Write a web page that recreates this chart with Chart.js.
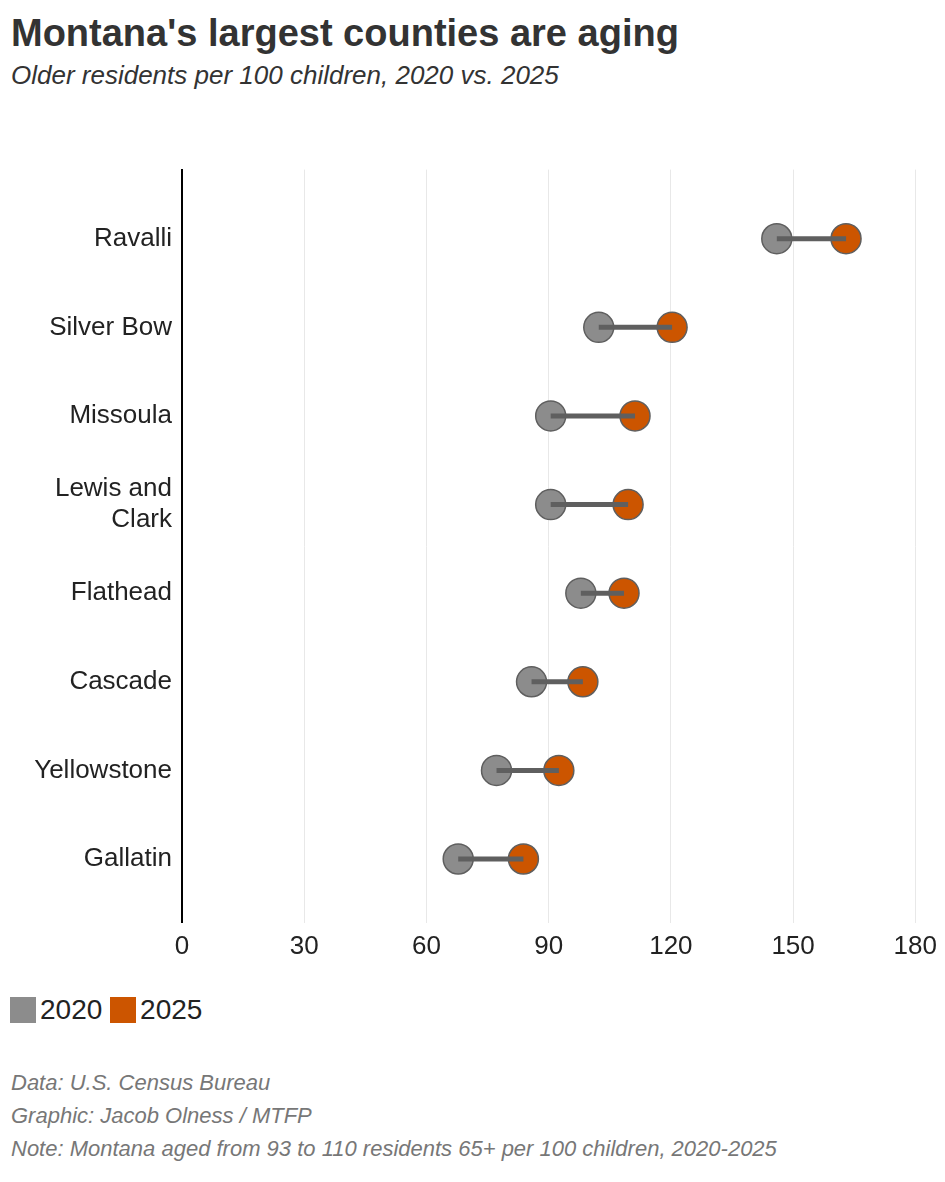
<!DOCTYPE html>
<html><head><meta charset="utf-8">
<script src="https://cdn.jsdelivr.net/npm/chart.js@4"></script>
<style>
body{margin:0;background:#fff;font-family:"Liberation Sans",Arial,sans-serif;color:#333}
h1{position:absolute;left:11px;top:12px;margin:0;font-size:38px;font-weight:bold;color:#333}
.sub{position:absolute;left:11px;top:60px;font-size:26px;font-style:italic;color:#333}
#wrap{position:absolute;left:0;top:150px;width:945px;height:820px}
.leg{position:absolute;left:10px;top:994px;font-size:28px;color:#222;display:flex;align-items:center}
.leg span.b{display:inline-block;width:26px;height:26px;margin-right:4px}
.notes{position:absolute;left:11px;top:1066px;font-size:22px;font-style:italic;color:#777;line-height:33px}
</style></head><body>
<h1>Montana's largest counties are aging</h1>
<div class="sub">Older residents per 100 children, 2020 vs. 2025</div>
<div id="wrap"><canvas id="c"></canvas></div>
<div class="leg"><span class="b" style="background:#8c8c8c"></span>2020&nbsp;<span class="b" style="background:#cc5500"></span>2025</div>
<div class="notes">Data: U.S. Census Bureau<br>Graphic: Jacob Olness / MTFP<br>Note: Montana aged from 93 to 110 residents 65+ per 100 children, 2020-2025</div>
<script>
var counties = ["Ravalli","Silver Bow","Missoula","Lewis and Clark","Flathead","Cascade","Yellowstone","Gallatin"];
var v2020 = [146, 102.3, 90.5, 90.5, 97.9, 85.8, 77.2, 67.8];
var v2025 = [163, 120.3, 111.2, 109.5, 108.5, 98.4, 92.5, 83.8];
var xTicks = [0, 30, 60, 90, 120, 150, 180];

var datasets = [];
counties.forEach(function(c, i){
	datasets.push({type:'line', data:[{x:v2020[i],y:i},{x:v2025[i],y:i}],
		borderColor:'#5f5f5f', borderWidth:5, pointRadius:0, pointHoverRadius:0});
});
datasets.push({type:'scatter', label:'2020', data:v2020.map(function(v,i){return {x:v,y:i};}),
	backgroundColor:'#8c8c8c', borderColor:'#5f5f5f', borderWidth:1.5, pointRadius:15});
datasets.push({type:'scatter', label:'2025', data:v2025.map(function(v,i){return {x:v,y:i};}),
	backgroundColor:'#cc5500', borderColor:'#5f5f5f', borderWidth:1.5, pointRadius:15});

new Chart(document.getElementById('c'), {
	type:'scatter',
	data:{datasets:datasets},
	options:{
		responsive:true, maintainAspectRatio:false, animation:false,
		layout:{padding:{left:0,right:12,top:10,bottom:0}},
		plugins:{legend:{display:false},tooltip:{enabled:false}},
		scales:{
			x:{type:'linear', min:0, max:180, afterBuildTicks:function(a){a.ticks=xTicks.map(function(v){return {value:v};});},
				grid:{color:'#e8e8e8', drawTicks:false}, border:{display:false},
				ticks:{color:'#222', font:{size:26, family:'Liberation Sans'}, padding:8}},
			y:{type:'linear', reverse:true, min:-0.78, max:7.72,
				afterBuildTicks:function(a){a.ticks=counties.map(function(c,i){return {value:i};});},
				grid:{display:false, drawTicks:true, tickLength:6, tickColor:'#999'},
				border:{display:true, color:'#000', width:2},
				ticks:{color:'#222', font:{size:26, family:'Liberation Sans'}, padding:4,
					callback:function(v){var c=counties[v]; return c==="Lewis and Clark"?["Lewis and","Clark"]:c;}},
				afterFit:function(s){s.width=182;}}
		}
	}
});
</script>
</body></html>
